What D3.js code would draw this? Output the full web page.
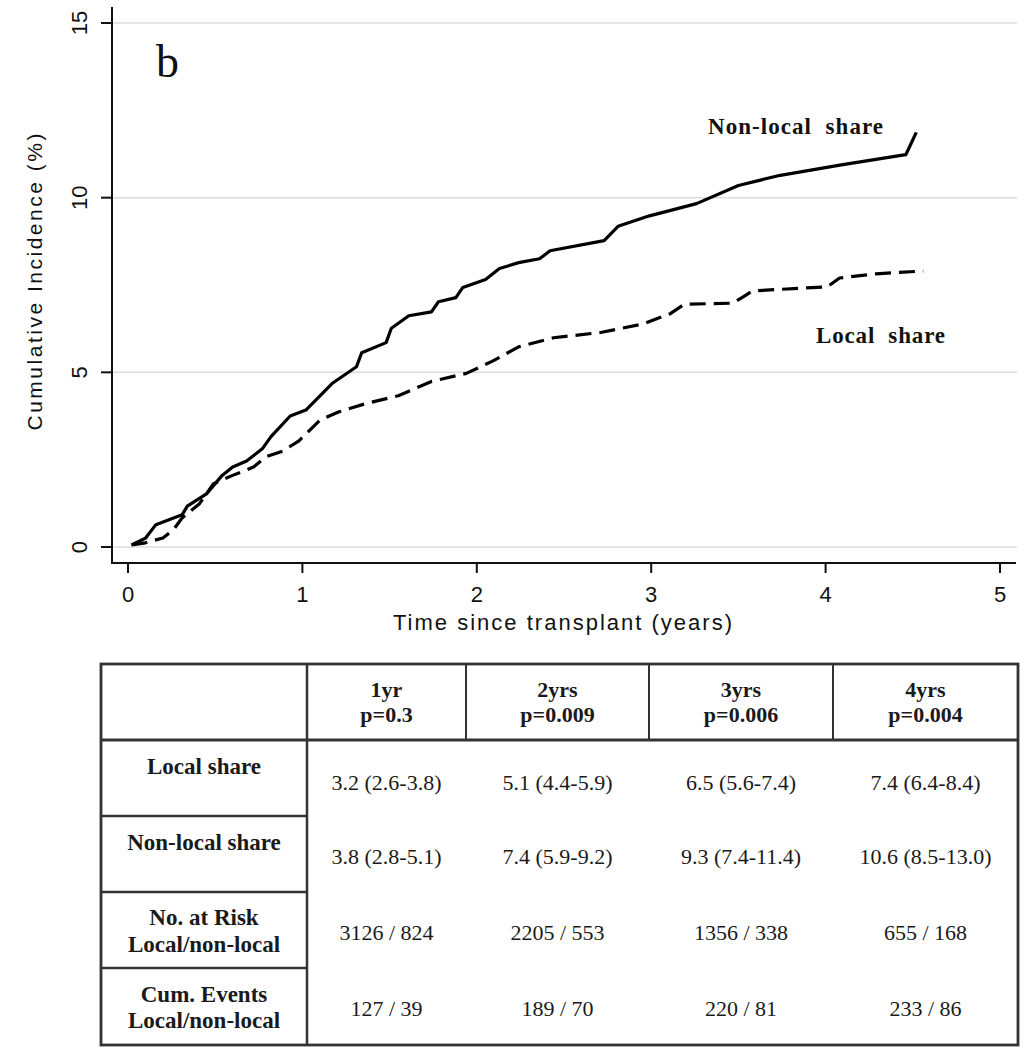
<!DOCTYPE html>
<html>
<head>
<meta charset="utf-8">
<script src="https://cdn.jsdelivr.net/npm/d3@7"></script>
<style>
  html, body { margin: 0; padding: 0; background: #fff; }
  svg { display: block; }
</style>
</head>
<body>
<svg id="chart" width="1036" height="1050"></svg>
<script>
// ---- Data ----
const nonLocalTime = [0.02,0.10,0.16,0.31,0.34,0.45,0.54,0.60,0.68,0.77,0.82,0.93,1.02,1.17,1.31,1.34,1.48,1.51,1.61,1.74,1.78,1.88,1.92,2.05,2.13,2.24,2.36,2.42,2.73,2.81,2.99,3.26,3.50,3.74,4.09,4.46,4.52];
const nonLocalInc  = [0.06,0.25,0.64,0.92,1.17,1.52,2.05,2.29,2.46,2.81,3.16,3.75,3.92,4.68,5.16,5.56,5.85,6.26,6.62,6.73,7.02,7.14,7.43,7.66,7.97,8.14,8.25,8.48,8.77,9.18,9.48,9.83,10.35,10.64,10.94,11.23,11.87];
const localTime = [0.02,0.10,0.20,0.26,0.31,0.41,0.49,0.60,0.72,0.79,0.89,0.98,1.10,1.21,1.36,1.55,1.74,1.94,2.09,2.24,2.44,2.71,2.95,3.11,3.19,3.47,3.53,3.58,4.01,4.08,4.29,4.56];
const localInc  = [0.06,0.12,0.26,0.49,0.83,1.24,1.81,2.05,2.29,2.58,2.75,3.04,3.63,3.87,4.10,4.33,4.74,4.97,5.32,5.73,5.99,6.14,6.38,6.68,6.95,6.98,7.17,7.33,7.45,7.70,7.82,7.90];

const xTicks = [0,1,2,3,4,5];
const yTicks = [0,5,10,15];
const panelLabel = "b";
const seriesLabels = ["Non-local  share", "Local  share"];
const xTitle = "Time since transplant (years)";
const yTitle = "Cumulative Incidence (%)";

const tableCols  = ["1yr","2yrs","3yrs","4yrs"];
const tablePvals = ["p=0.3","p=0.009","p=0.006","p=0.004"];
const rowLabels  = [["Local share"],["Non-local share"],["No. at Risk","Local/non-local"],["Cum. Events","Local/non-local"]];
const localShareRow    = ["3.2 (2.6-3.8)","5.1 (4.4-5.9)","6.5 (5.6-7.4)","7.4 (6.4-8.4)"];
const nonLocalShareRow = ["3.8 (2.8-5.1)","7.4 (5.9-9.2)","9.3 (7.4-11.4)","10.6 (8.5-13.0)"];
const atRiskRow        = ["3126 / 824","2205 / 553","1356 / 338","655 / 168"];
const cumEventsRow     = ["127 / 39","189 / 70","220 / 81","233 / 86"];
const tableRows = [localShareRow, nonLocalShareRow, atRiskRow, cumEventsRow];

// ---- Layout ----
const svg = d3.select("#chart");
svg.append("rect").attr("width",1036).attr("height",1050).attr("fill","#fff");

const x = d3.scaleLinear().domain([0,5]).range([128,1000]);
const y = d3.scaleLinear().domain([0,15]).range([547,23]);
const axisX0 = 112, axisXEnd = 1016, axisY = 563, axisTop = 7;
const sans = "'Liberation Sans', Arial, sans-serif";
const serif = "'Liberation Serif', 'Times New Roman', serif";

// gridlines
svg.append("g").selectAll("line").data(yTicks).join("line")
  .attr("x1", axisX0+1).attr("x2", 1017)
  .attr("y1", d=>y(d)).attr("y2", d=>y(d))
  .attr("stroke","#dcdcdc").attr("stroke-width",1.5);

// axes lines
svg.append("line").attr("x1",axisX0).attr("x2",axisX0).attr("y1",axisTop).attr("y2",axisY+1)
  .attr("stroke","#111").attr("stroke-width",2);
svg.append("line").attr("x1",axisX0).attr("x2",axisXEnd).attr("y1",axisY).attr("y2",axisY)
  .attr("stroke","#111").attr("stroke-width",2);

// y ticks
const yt = svg.append("g");
yt.selectAll("line").data(yTicks).join("line")
  .attr("x1",101).attr("x2",axisX0).attr("y1",d=>y(d)).attr("y2",d=>y(d))
  .attr("stroke","#111").attr("stroke-width",2);
yt.selectAll("text").data(yTicks).join("text")
  .attr("transform", d=>`translate(79,${y(d)}) rotate(-90)`)
  .attr("text-anchor","middle").attr("dy","0.36em")
  .attr("font-family",sans).attr("font-size",22).attr("fill","#111")
  .text(d=>d);

// x ticks
const xt = svg.append("g");
xt.selectAll("line").data(xTicks).join("line")
  .attr("x1",d=>x(d)).attr("x2",d=>x(d)).attr("y1",axisY).attr("y2",573)
  .attr("stroke","#111").attr("stroke-width",2);
xt.selectAll("text").data(xTicks).join("text")
  .attr("x",d=>x(d)).attr("y",602)
  .attr("text-anchor","middle")
  .attr("font-family",sans).attr("font-size",22).attr("fill","#111")
  .text(d=>d);

// axis titles
svg.append("text").attr("x",562.5).attr("y",630).attr("text-anchor","middle")
  .attr("font-family",sans).attr("font-size",22).attr("fill","#111")
  .attr("textLength",339).attr("lengthAdjust","spacing")
  .text(xTitle);
svg.append("text").attr("transform","translate(42,282) rotate(-90)").attr("text-anchor","middle")
  .attr("font-family",sans).attr("font-size",21).attr("fill","#111")
  .attr("textLength",297).attr("lengthAdjust","spacing")
  .text(yTitle);

// panel label
svg.append("text").attr("x",156).attr("y",77)
  .attr("font-family",serif).attr("font-size",46).attr("fill","#111")
  .text(panelLabel);

// curves
const line = d3.line().x(d=>x(d[0])).y(d=>y(d[1])).curve(d3.curveLinear);
const nonLocalData = nonLocalTime.map((t,i)=>[t,nonLocalInc[i]]);
const localData = localTime.map((t,i)=>[t,localInc[i]]);
svg.append("path").datum(localData).attr("d",line)
  .attr("fill","none").attr("stroke","#000").attr("stroke-width",3.2)
  .attr("stroke-dasharray","16 8").attr("stroke-linejoin","round");
svg.append("path").datum(nonLocalData).attr("d",line)
  .attr("fill","none").attr("stroke","#000").attr("stroke-width",3.2)
  .attr("stroke-linejoin","round");

// series labels
svg.append("text").attr("x",708).attr("y",134)
  .attr("font-family",serif).attr("font-weight","bold").attr("font-size",23).attr("fill","#111")
  .attr("textLength",175).attr("lengthAdjust","spacing").style("white-space","pre")
  .text(seriesLabels[0]);
svg.append("text").attr("x",816).attr("y",343)
  .attr("font-family",serif).attr("font-weight","bold").attr("font-size",23).attr("fill","#111")
  .attr("textLength",129).attr("lengthAdjust","spacing").style("white-space","pre")
  .text(seriesLabels[1]);

// ---- Table ----
const colEdges = [101,307,466,649,833,1018];
const rowEdges = [664,740,816,892,968,1045];
const tg = svg.append("g");
const lc = "#333";
tg.append("rect").attr("x",colEdges[0]).attr("y",rowEdges[0])
  .attr("width",colEdges[5]-colEdges[0]).attr("height",rowEdges[5]-rowEdges[0])
  .attr("fill","none").attr("stroke",lc).attr("stroke-width",2.8);
tg.append("line").attr("x1",colEdges[1]).attr("x2",colEdges[1]).attr("y1",rowEdges[0]).attr("y2",rowEdges[5])
  .attr("stroke",lc).attr("stroke-width",2.5);
tg.selectAll(".hv").data(colEdges.slice(2,5)).join("line")
  .attr("x1",d=>d).attr("x2",d=>d).attr("y1",rowEdges[0]).attr("y2",rowEdges[1])
  .attr("stroke",lc).attr("stroke-width",2);
tg.append("line").attr("x1",colEdges[0]).attr("x2",colEdges[5]).attr("y1",rowEdges[1]).attr("y2",rowEdges[1])
  .attr("stroke",lc).attr("stroke-width",2.8);
tg.selectAll(".rh").data(rowEdges.slice(2,5)).join("line")
  .attr("x1",colEdges[0]).attr("x2",colEdges[1]).attr("y1",d=>d).attr("y2",d=>d)
  .attr("stroke",lc).attr("stroke-width",2.5);

const colCenter = i => (colEdges[i+1]+colEdges[i+2])/2;
const firstCenter = (colEdges[0]+colEdges[1])/2;

// header
tableCols.forEach((c,i)=>{
  tg.append("text").attr("x",colCenter(i)).attr("y",697).attr("text-anchor","middle")
    .attr("font-family",serif).attr("font-weight","bold").attr("font-size",22).attr("fill","#1a1a1a").text(c);
  tg.append("text").attr("x",colCenter(i)).attr("y",722).attr("text-anchor","middle")
    .attr("font-family",serif).attr("font-weight","bold").attr("font-size",22).attr("fill","#1a1a1a").text(tablePvals[i]);
});

// row labels
const labelBase = [[774],[850],[925,952],[1002,1028]];
rowLabels.forEach((lines,r)=>{
  lines.forEach((t,k)=>{
    tg.append("text").attr("x",firstCenter).attr("y",labelBase[r][k]).attr("text-anchor","middle")
      .attr("font-family",serif).attr("font-weight","bold").attr("font-size",23).attr("fill","#1a1a1a").text(t);
  });
});

// values
const valueBase = [790,864,940,1016];
tableRows.forEach((row,r)=>{
  row.forEach((v,i)=>{
    tg.append("text").attr("x",colCenter(i)).attr("y",valueBase[r]).attr("text-anchor","middle")
      .attr("font-family",serif).attr("font-size",22).attr("fill","#1a1a1a").text(v);
  });
});
</script>
</body>
</html>
